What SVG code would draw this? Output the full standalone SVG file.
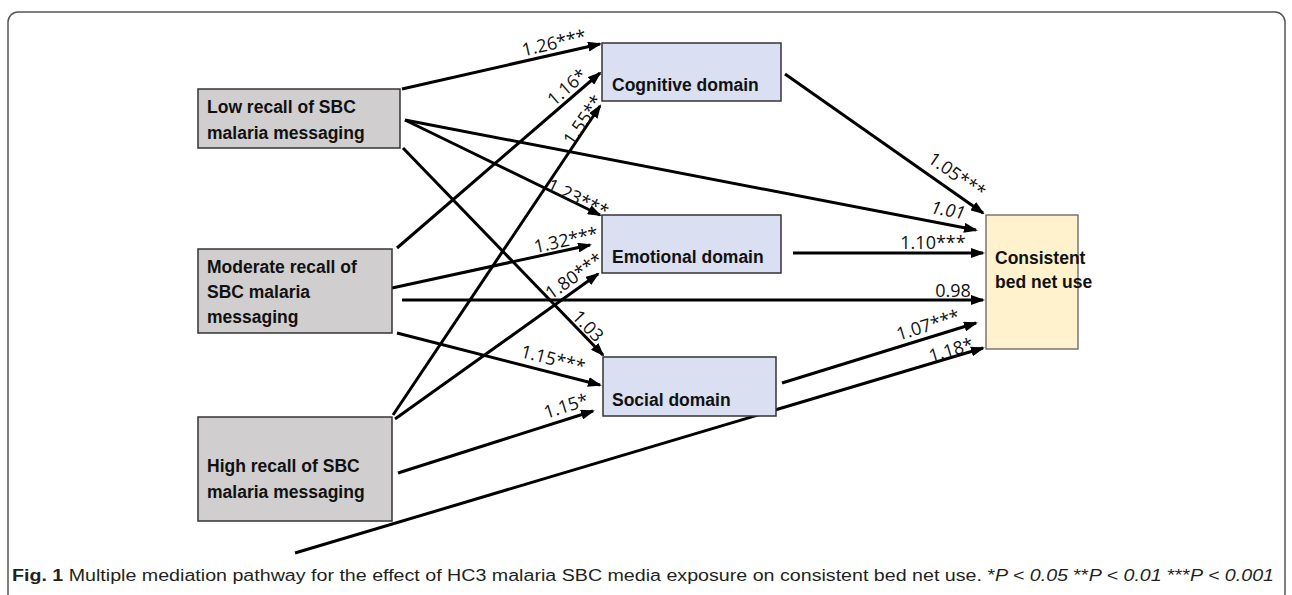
<svg xmlns="http://www.w3.org/2000/svg" width="1292" height="595" viewBox="0 0 1292 595">
<defs>
<marker id="ah" markerUnits="userSpaceOnUse" markerWidth="14" markerHeight="10" refX="12" refY="5" orient="auto">
<path d="M0,0 L14,5 L0,10 z" fill="#000"/>
</marker>
<style>
.frame{fill:none;stroke:#555;stroke-width:1.5}
.src{fill:#d0cece;stroke:#333;stroke-width:1.5}
.med{fill:#dae0f1;stroke:#333;stroke-width:1.5}
.out{fill:#fff2cc;stroke:#555;stroke-width:1.2}
.nt{font-family:"Liberation Sans",Arial,sans-serif;font-weight:bold;font-size:17.5px;fill:#111}
.lbl{font-family:"Open Sans","Liberation Sans",sans-serif;font-size:18px;fill:#111;text-anchor:middle}
.it{font-style:italic}
.cn line{stroke:#000;stroke-width:3;marker-end:url(#ah)}
.cap{font-family:"Liberation Sans",Arial,sans-serif;font-size:16px;fill:#231f20}
</style>
</defs>
<rect class="frame" x="8" y="12" width="1277" height="592" rx="10"/>

<g id="connectors" class="cn">
<line x1="402" y1="89" x2="600" y2="44"/>
<line x1="397" y1="248" x2="600" y2="73"/>
<line x1="393" y1="415" x2="600" y2="106"/>
<line x1="405" y1="120" x2="976" y2="230"/>
<line x1="405" y1="120" x2="600" y2="215"/>
<line x1="403" y1="148" x2="603" y2="355"/>
<line x1="392" y1="288" x2="590" y2="245"/>
<line x1="395" y1="419" x2="598" y2="274"/>
<line x1="402" y1="300" x2="983" y2="300"/>
<line x1="397" y1="333" x2="600" y2="385"/>
<line x1="398" y1="473" x2="593" y2="411"/>
<line x1="785" y1="74" x2="983" y2="213"/>
<line x1="793" y1="253" x2="983" y2="253"/>
<line x1="782" y1="383" x2="976" y2="323"/>
<line x1="295" y1="553" x2="983" y2="348"/>
</g>

<g id="labels">
<text class="lbl" dy="0.35em" transform="translate(554,43) rotate(-12.8)">1.26***</text>
<text class="lbl" dy="0.35em" transform="translate(567,87) rotate(-40.8)">1.16*</text>
<text class="lbl" dy="0.35em" transform="translate(583,120) rotate(-56.2)">1.55**</text>
<text class="lbl" dy="0.35em" transform="translate(578,198) rotate(26)">1.23***</text>
<text class="lbl it" dy="0.35em" transform="translate(948,210) rotate(10.9)">1.01</text>
<text class="lbl" dy="0.35em" transform="translate(957,175) rotate(35.1)">1.05***</text>
<text class="lbl" dy="0.35em" transform="translate(933,243)">1.10***</text>
<text class="lbl" dy="0.35em" transform="translate(953,291)">0.98</text>
<text class="lbl" dy="0.35em" transform="translate(928,325) rotate(-17.2)">1.07***</text>
<text class="lbl" dy="0.35em" transform="translate(951,350) rotate(-16.6)">1.18*</text>
<text class="lbl" dy="0.35em" transform="translate(588,326) rotate(46)">1.03</text>
<text class="lbl" dy="0.35em" transform="translate(566,240) rotate(-12.3)">1.32***</text>
<text class="lbl" dy="0.35em" transform="translate(574,276) rotate(-35.5)">1.80***</text>
<text class="lbl" dy="0.35em" transform="translate(553,359) rotate(14.4)">1.15***</text>
<text class="lbl" dy="0.35em" transform="translate(566,406) rotate(-17.6)">1.15*</text>
</g>

<g id="low">
<rect class="src" x="198" y="89" width="202" height="59"/>
<text class="nt" x="207" y="113">Low recall of SBC</text>
<text class="nt" x="207" y="139">malaria messaging</text>
</g>
<g id="moderate">
<rect class="src" x="198" y="249" width="194" height="84"/>
<text class="nt" x="207" y="273">Moderate recall of</text>
<text class="nt" x="207" y="298">SBC malaria</text>
<text class="nt" x="207" y="323">messaging</text>
</g>
<g id="high">
<rect class="src" x="198" y="417" width="194" height="104"/>
<text class="nt" x="207" y="472">High recall of SBC</text>
<text class="nt" x="207" y="498">malaria messaging</text>
</g>
<g id="cognitive">
<rect class="med" x="602" y="43" width="179" height="58"/>
<text class="nt" x="612" y="91">Cognitive domain</text>
</g>
<g id="emotional">
<rect class="med" x="602" y="215" width="179" height="58"/>
<text class="nt" x="612" y="263">Emotional domain</text>
</g>
<g id="social">
<rect class="med" x="603" y="357" width="173" height="59"/>
<text class="nt" x="612" y="406">Social domain</text>
</g>
<g id="consistent">
<rect class="out" x="986" y="215" width="92" height="134"/>
<text class="nt" x="995" y="264">Consistent</text>
<text class="nt" x="995" y="288">bed net use</text>
</g>

<text class="cap" x="12" y="581" textLength="1262" lengthAdjust="spacingAndGlyphs"><tspan font-weight="bold">Fig. 1</tspan> Multiple mediation pathway for the effect of HC3 malaria SBC media exposure on consistent bed net use. *<tspan font-style="italic">P &lt; 0.05</tspan> **<tspan font-style="italic">P &lt; 0.01</tspan> ***<tspan font-style="italic">P &lt; 0.001</tspan></text>
</svg>
